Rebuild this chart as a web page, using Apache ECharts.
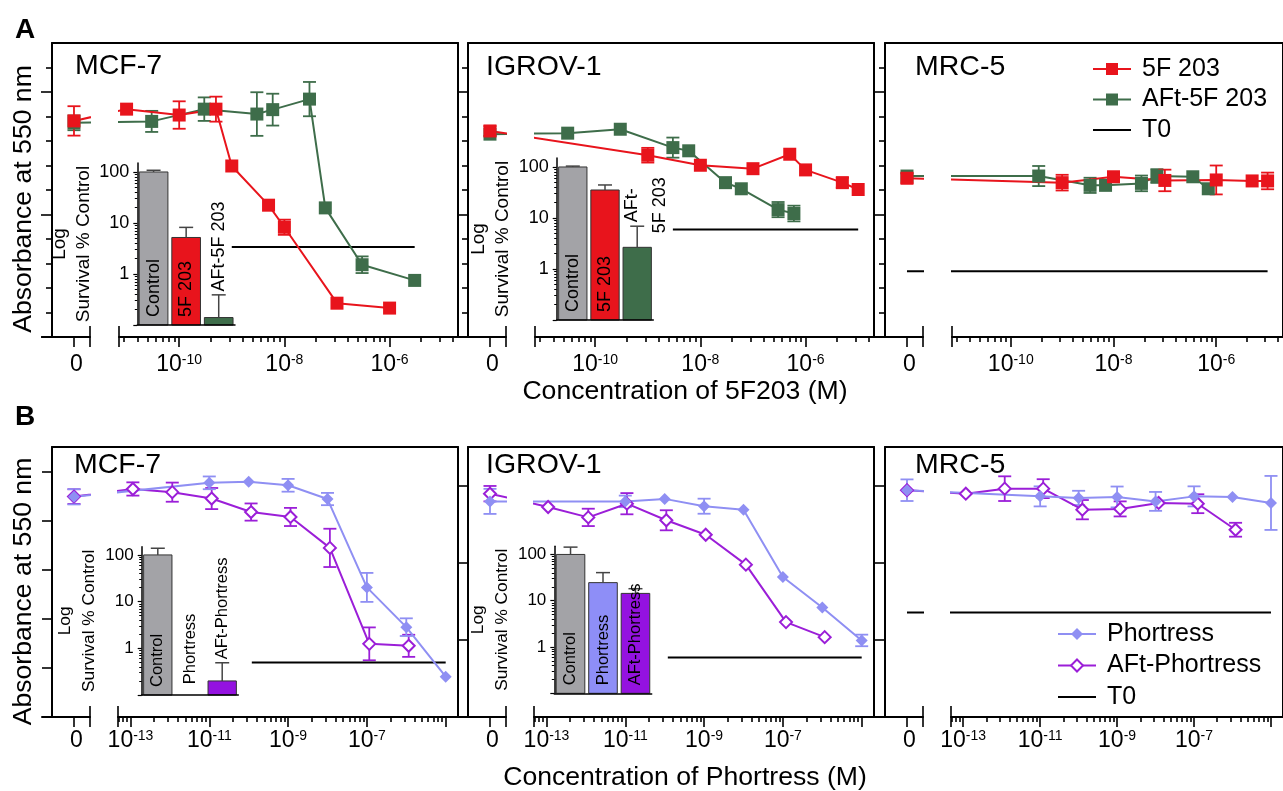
<!DOCTYPE html>
<html>
<head>
<meta charset="utf-8">
<title>5F 203 / Phortress dose response</title>
<script src="https://cdn.jsdelivr.net/npm/echarts@6/dist/echarts.min.js"></script>
<style>
  html, body { margin: 0; padding: 0; background: #fff; }
  #main { width: 1283px; height: 791px; }
</style>
</head>
<body>
<div id="main"></div>
<script>
const FONT = '"Liberation Sans", Arial, Helvetica, sans-serif';
const RED = '#e8141c', GREEN = '#3e6d4a', LAV = '#8f8ff3', PURPLE = '#9b1ed8', GREY = '#a3a3a7';

// ---------- A: 5F 203 / AFt-5F 203, concentration (M), absorbance at 550 nm ----------
const aMcfFreeConc = [0, 1e-11, 1e-10, 5e-10, 1e-9, 5e-9, 1e-8, 1e-7, 1e-6];
const aMcfFreeAbs  = [0.882, 0.930, 0.906, 0.930, 0.698, 0.538, 0.448, 0.138, 0.118];
const aMcfFreeSd   = [0.060, 0, 0.056, 0.051, 0, 0, 0.031, 0, 0];
const aMcfAftConc  = [0, 3e-11, 3e-10, 3e-9, 6e-9, 3e-8, 6e-8, 3e-7, 3e-6];
const aMcfAftAbs   = [0.874, 0.880, 0.930, 0.910, 0.928, 0.971, 0.527, 0.295, 0.231];
const aMcfAftSd    = [0.030, 0.043, 0.048, 0.089, 0.065, 0.070, 0, 0.034, 0];

const aIgrFreeConc = [0, 1e-9, 1e-8, 1e-7, 5e-7, 1e-6, 5e-6, 1e-5];
const aIgrFreeAbs  = [0.841, 0.742, 0.701, 0.687, 0.746, 0.682, 0.630, 0.602];
const aIgrFreeSd   = [0.020, 0.030, 0, 0, 0, 0, 0.020, 0];
const aIgrAftConc  = [0, 3e-11, 3e-10, 3e-9, 6e-9, 3e-8, 6e-8, 3e-7, 6e-7];
const aIgrAftAbs   = [0.828, 0.832, 0.848, 0.773, 0.760, 0.630, 0.605, 0.520, 0.504];
const aIgrAftSd    = [0, 0, 0, 0.041, 0, 0, 0, 0.031, 0.032];

const aMrcFreeConc = [0, 1e-9, 1e-8, 1e-7, 1e-6, 5e-6, 1e-5];
const aMrcFreeAbs  = [0.648, 0.630, 0.654, 0.639, 0.641, 0.637, 0.637];
const aMrcFreeSd   = [0.020, 0.032, 0, 0.044, 0.059, 0, 0.034];
const aMrcAftConc  = [0, 3.5e-10, 3.5e-9, 7e-9, 3.5e-8, 7e-8, 3.5e-7, 7e-7];
const aMrcAftAbs   = [0.657, 0.657, 0.619, 0.619, 0.627, 0.657, 0.654, 0.605];
const aMrcAftSd    = [0, 0.041, 0.031, 0, 0.032, 0.028, 0, 0];

// ---------- B: Phortress / AFt-Phortress ----------
const bMcfFreeConc = [0, 1e-11, 1e-10, 1e-9, 1e-8, 1e-7, 1e-6, 1e-5];
const bMcfFreeAbs  = [0.897, 0.954, 0.958, 0.944, 0.888, 0.528, 0.366, 0.164];
const bMcfFreeSd   = [0.031, 0.026, 0, 0.026, 0.025, 0.059, 0.036, 0];
const bMcfAftConc  = [0, 1.15e-13, 1.15e-12, 1.15e-11, 1.15e-10, 1.15e-9, 1.15e-8, 1.15e-7, 1.15e-6];
const bMcfAftAbs   = [0.898, 0.929, 0.916, 0.890, 0.835, 0.815, 0.689, 0.298, 0.290];
const bMcfAftSd    = [0.030, 0.027, 0.039, 0.043, 0.035, 0.037, 0.078, 0.067, 0.045];

const bIgrFreeConc = [0, 1e-11, 1e-10, 1e-9, 1e-8, 1e-7, 1e-6, 1e-5];
const bIgrFreeAbs  = [1.118, 1.118, 1.131, 1.093, 1.075, 0.726, 0.568, 0.397];
const bIgrFreeSd   = [0.065, 0.030, 0, 0.039, 0, 0, 0, 0.030];
const bIgrAftConc  = [0, 1.1e-13, 1.15e-12, 1.1e-11, 1.1e-10, 1.1e-9, 1.15e-8, 1.2e-7, 1.15e-6];
const bIgrAftAbs   = [1.158, 1.089, 1.035, 1.106, 1.020, 0.945, 0.790, 0.492, 0.414];
const bIgrAftSd    = [0.040, 0, 0.045, 0.055, 0.052, 0, 0, 0, 0];

const bMrcFreeConc = [0, 1e-11, 1e-10, 1e-9, 1e-8, 1e-7, 1e-6, 1e-5];
const bMrcFreeAbs  = [1.176, 1.144, 1.136, 1.141, 1.118, 1.144, 1.141, 1.110];
const bMrcFreeSd   = [0.056, 0.052, 0.037, 0.054, 0.049, 0.052, 0, 0.140];
const bMrcAftConc  = [0, 1.17e-13, 1.2e-12, 1.2e-11, 1.25e-10, 1.2e-9, 1.2e-8, 1.25e-7, 1.2e-6];
const bMrcAftAbs   = [1.176, 1.158, 1.184, 1.184, 1.075, 1.079, 1.110, 1.106, 0.971];
const bMrcAftSd    = [0, 0, 0.064, 0.049, 0.050, 0.039, 0, 0.049, 0.036];

// T0 absorbance and visible extent (M) per panel: A MCF-7, A IGROV-1, A MRC-5, B MCF-7, B IGROV-1, B MRC-5
const t0Abs   = [0.367, 0.439, 0.268, 0.222, 0.308, 0.542];
const t0From  = [1e-9, 3e-9, 0, 1.2e-10, 1.2e-10, 0];
const t0To    = [3e-6, 1e-5, 1e-5, 1e-5, 1e-5, 1e-5];

// ---------- insets: survival % of control (log) ----------
const insetCatsA = ['Control', '5F 203', 'AFt-5F 203'];
const insetCatsB = ['Control', 'Phortress', 'AFt-Phortress'];
const insMcfA = [100, 5.2, 0.14],  insMcfAErr = [108, 8.2, 0.39];
const insIgrA = [100, 35.4, 2.66], insIgrAErr = [104, 44.4, 6.9];
const insMcfB = [100, 0.1, 0.2],   insMcfBErr = [139, 0.1, 0.49];
const insIgrB = [100, 24.6, 14.4], insIgrBErr = [144, 40.5, 18.2];

// tick labels (exponents of 10) and inset tick labels
const tickExpA = [-10, -8, -6];
const tickExpB = [-13, -11, -9, -7];
const insetTickLabels = [1, 10, 100];

// ---------- layout ----------
const ROWS = {
  A: { top: 43, bottom: 337, pxPerDec: 52.6, zero: -12, seg0: [-12.608, -11.696], log: [-11.144, -4.70],
       first: -12, labels: tickExpA, labelMargin: 16 },
  B: { top: 447, bottom: 717, pxPerDec: 39.4, zero: -14.434, seg0: [-15.246, -14.028], log: [-13.317, -4.688],
       first: -15, labels: tickExpB, labelMargin: 12 }
};

const STYLE = {
  '5F 203':        { color: RED,    symbol: 'rect',         size: 13, bw: 0 },
  'AFt-5F 203':    { color: GREEN,  symbol: 'rect',         size: 13, bw: 0 },
  'Phortress':     { color: LAV,    symbol: 'diamond',      size: 12, bw: 0 },
  'AFt-Phortress': { color: PURPLE, symbol: 'emptyDiamond', size: 12, bw: 2 }
};

const panels = [
  { row: 'A', L: 52,  title: 'MCF-7',   tx: 75,  ty: 66,  yMax: 1.2, yTicks: [0, 0.5, 1.0], yMinor: 0.1, k: 0,
    sets: [['AFt-5F 203', aMcfAftConc, aMcfAftAbs, aMcfAftSd], ['5F 203', aMcfFreeConc, aMcfFreeAbs, aMcfFreeSd]] },
  { row: 'A', L: 468, title: 'IGROV-1', tx: 486, ty: 67,  yMax: 1.2, yTicks: [0, 0.5, 1.0], yMinor: 0.1, k: 1,
    sets: [['AFt-5F 203', aIgrAftConc, aIgrAftAbs, aIgrAftSd], ['5F 203', aIgrFreeConc, aIgrFreeAbs, aIgrFreeSd]] },
  { row: 'A', L: 885, title: 'MRC-5',   tx: 915, ty: 67,  yMax: 1.2, yTicks: [0, 0.5, 1.0], yMinor: 0.1, k: 2,
    sets: [['AFt-5F 203', aMrcAftConc, aMrcAftAbs, aMrcAftSd], ['5F 203', aMrcFreeConc, aMrcFreeAbs, aMrcFreeSd]] },
  { row: 'B', L: 52,  title: 'MCF-7',   tx: 74,  ty: 465, yMax: 1.1, yTicks: [0, 0.2, 0.4, 0.6, 0.8, 1.0], k: 3,
    sets: [['AFt-Phortress', bMcfAftConc, bMcfAftAbs, bMcfAftSd], ['Phortress', bMcfFreeConc, bMcfFreeAbs, bMcfFreeSd]] },
  { row: 'B', L: 468, title: 'IGROV-1', tx: 486, ty: 465, yMax: 1.4, yTicks: [0, 0.4, 0.8, 1.2], k: 4,
    sets: [['AFt-Phortress', bIgrAftConc, bIgrAftAbs, bIgrAftSd], ['Phortress', bIgrFreeConc, bIgrFreeAbs, bIgrFreeSd]] },
  { row: 'B', L: 885, title: 'MRC-5',   tx: 915, ty: 465, yMax: 1.4, yTicks: [0, 0.4, 0.8, 1.2], k: 5,
    sets: [['AFt-Phortress', bMrcAftConc, bMrcAftAbs, bMrcAftSd], ['Phortress', bMrcFreeConc, bMrcFreeAbs, bMrcFreeSd]] }
];

const insets = [
  { box: { left: 137.3, top: 163, width: 97.7, height: 162 }, cats: insetCatsA, values: insMcfA, err: insMcfAErr,
    text: ['Control', '5F 203', 'AFt-5F 203'], place: ['in', 'in', [71, 0]], colors: [GREY, RED, GREEN],
    fs: 18, lh: 20, tickFs: 18, nameFs: 19 },
  { box: { left: 556.7, top: 158, width: 96.6, height: 162 }, cats: insetCatsA, values: insIgrA, err: insIgrAErr,
    text: ['Control', '5F 203', 'AFt-\n5F 203'], place: ['in', 'in', [42, 9]], colors: [GREY, RED, GREEN],
    fs: 18, lh: 28, tickFs: 18, nameFs: 19 },
  { box: { left: 141.7, top: 546.7, width: 96.6, height: 148.3 }, cats: insetCatsB, values: insMcfB, err: insMcfBErr,
    text: insetCatsB, place: ['in', [46, 0], [72.5, 0]], colors: [GREY, '#8e8ef7', '#9412e0'],
    fs: 16.5, lh: 18, tickFs: 17, nameFs: 17.3 },
  { box: { left: 554.3, top: 546.3, width: 97.4, height: 147 }, cats: insetCatsB, values: insIgrB, err: insIgrBErr,
    text: insetCatsB, place: ['in', 'in', 'in'], colors: [GREY, '#8e8ef7', '#9412e0'],
    fs: 16.5, lh: 18, tickFs: 17, nameFs: 17.3 }
];

// ---------- build ----------
const grid = [], xAxis = [], yAxis = [], series = [], graphic = [];
const push = (arr, o) => { arr.push(o); return arr.length - 1; };
const AX = { color: '#000', width: 2 };
const TK = { color: '#000', width: 1.6 };
const NO = { show: false };
const XRICH = {
  b: { fontSize: 23, fontFamily: FONT, color: '#000', lineHeight: 24 },
  z: { fontSize: 23, fontFamily: FONT, color: '#000', lineHeight: 24, padding: [0, 0, 0, 5] },
  s: { fontSize: 14, fontFamily: FONT, color: '#000', lineHeight: 14, padding: [0, 0, 10, 0] }
};

function xOf(c, r) { return c === 0 ? r.zero : Math.log10(c); }

function errBar(color, half) {
  return function (params, api) {
    const x = api.value(0), y = api.value(1), e = api.value(2);
    const top = api.coord([x, y + e]);
    const bot = api.coord([x, y - e]);
    const st = { stroke: color, lineWidth: 1.8 };
    return { type: 'group', children: [
      { type: 'line', shape: { x1: top[0], y1: top[1], x2: bot[0], y2: bot[1] }, style: st },
      { type: 'line', shape: { x1: top[0] - half, y1: top[1], x2: top[0] + half, y2: top[1] }, style: st },
      { type: 'line', shape: { x1: bot[0] - half, y1: bot[1], x2: bot[0] + half, y2: bot[1] }, style: st }
    ] };
  };
}

function insetBar(ins) {
  return function (params, api) {
    const i = api.value(0), v = api.value(1), e = api.value(2);
    const cs = params.coordSys;
    const base = cs.y + cs.height;
    const top = api.coord([i, v]);
    const errP = api.coord([i, e]);
    const bw = api.size([1, 0])[0] * 0.88;
    const cx = top[0];
    const kids = [];
    if (base - top[1] > 0.5) {
      kids.push({ type: 'rect', shape: { x: cx - bw / 2, y: top[1], width: bw, height: base - top[1] },
        style: { fill: ins.colors[i], stroke: '#333', lineWidth: 1 } });
    }
    if (e > v) {
      const st = { stroke: '#444', lineWidth: 1.5 };
      kids.push({ type: 'line', shape: { x1: cx, y1: top[1], x2: cx, y2: errP[1] }, style: st });
      kids.push({ type: 'line', shape: { x1: cx - 7, y1: errP[1], x2: cx + 7, y2: errP[1] }, style: st });
    }
    const place = ins.place[i];
    const ts = { text: ins.text[i], fill: '#000', fontSize: ins.fs, fontFamily: FONT, lineHeight: ins.lh };
    if (place === 'in') {
      kids.push({ type: 'text', x: cx, y: base - 8, rotation: Math.PI / 2,
        style: Object.assign({ align: 'left', verticalAlign: 'middle', textAlign: 'left', textVerticalAlign: 'middle' }, ts) });
    } else {
      kids.push({ type: 'text', x: cx + place[1], y: top[1] - place[0], rotation: Math.PI / 2,
        style: Object.assign({ align: 'center', verticalAlign: 'middle', textAlign: 'center', textVerticalAlign: 'middle' }, ts) });
    }
    return { type: 'group', children: kids };
  };
}

panels.forEach(p => {
  const r = ROWS[p.row];
  const h = r.bottom - r.top;

  // frame: left axis with ticks, top line, right line
  const gb = push(grid, { left: p.L, top: r.top, width: 406, height: h });
  push(xAxis, { gridIndex: gb, type: 'value', min: 0, max: 1, position: 'top',
    axisLine: { show: true, onZero: false, lineStyle: AX }, axisTick: NO, axisLabel: NO, splitLine: NO });
  push(yAxis, { gridIndex: gb, type: 'value', min: 0, max: p.yMax, position: 'left',
    axisLine: { show: true, onZero: false, lineStyle: AX },
    axisTick: { show: true, length: p.yMinor ? 11 : 10, customValues: p.yTicks, lineStyle: TK },
    axisLabel: NO, splitLine: NO });
  if (p.yMinor) {
    const minors = [];
    for (let k = 1; k * p.yMinor < p.yMax - 1e-9; k++) {
      const v = Math.round(k * p.yMinor * 1000) / 1000;
      if (!p.yTicks.includes(v)) minors.push(v);
    }
    push(yAxis, { gridIndex: gb, type: 'value', min: 0, max: p.yMax, position: 'left',
      axisLine: { show: false, onZero: false },
      axisTick: { show: true, length: 6, customValues: minors, lineStyle: TK }, axisLabel: NO, splitLine: NO });
  }
  push(yAxis, { gridIndex: gb, type: 'value', min: 0, max: p.yMax, position: 'right',
    axisLine: { show: true, onZero: false, lineStyle: AX }, axisTick: NO, axisLabel: NO, splitLine: NO });

  // zero segment of the broken x axis
  const g0left = p.L - 10;
  const g0 = push(grid, { left: g0left, top: r.top, width: (r.seg0[1] - r.seg0[0]) * r.pxPerDec, height: h });
  const x0 = push(xAxis, { gridIndex: g0, type: 'value', min: r.seg0[0], max: r.seg0[1], position: 'bottom',
    axisLine: { show: true, onZero: false, lineStyle: AX },
    axisTick: { show: true, length: 10, customValues: [r.zero, r.seg0[1]], lineStyle: TK },
    axisLabel: { show: true, margin: r.labelMargin, customValues: [r.zero], formatter: () => '{z|0}', rich: XRICH },
    splitLine: NO });
  push(xAxis, { gridIndex: g0, type: 'value', min: r.seg0[0], max: r.seg0[1], position: 'bottom',
    axisLine: { show: false, onZero: false },
    axisTick: { show: true, inside: true, length: 11, customValues: [r.seg0[1]], lineStyle: TK },
    axisLabel: NO, splitLine: NO });
  const y0 = push(yAxis, { gridIndex: g0, type: 'value', min: 0, max: p.yMax, show: false });

  // log segment
  const glLeft = g0left + (r.log[0] - r.seg0[0]) * r.pxPerDec;
  const gl = push(grid, { left: glLeft, top: r.top, width: (r.log[1] - r.log[0]) * r.pxPerDec, height: h });
  const majors = [], minors = [];
  for (let n = r.first; n <= r.log[1]; n += 2) {
    if (n >= r.log[0]) majors.push(n);
    for (let k = 2; k <= 9; k++) {
      const m = n + 2 * Math.log10(k);
      if (m >= r.log[0] && m <= r.log[1]) minors.push(m);
    }
  }
  const xl = push(xAxis, { gridIndex: gl, type: 'value', min: r.log[0], max: r.log[1], position: 'bottom',
    axisLine: { show: true, onZero: false, lineStyle: AX },
    axisTick: { show: true, length: 10, customValues: [r.log[0]].concat(majors), lineStyle: TK },
    axisLabel: { show: true, margin: r.labelMargin, customValues: r.labels,
      formatter: v => '{b|10}{s|' + Math.round(v) + '}', rich: XRICH },
    splitLine: NO });
  push(xAxis, { gridIndex: gl, type: 'value', min: r.log[0], max: r.log[1], position: 'bottom',
    axisLine: { show: false, onZero: false },
    axisTick: { show: true, length: 5, customValues: minors, lineStyle: TK }, axisLabel: NO, splitLine: NO });
  push(xAxis, { gridIndex: gl, type: 'value', min: r.log[0], max: r.log[1], position: 'bottom',
    axisLine: { show: false, onZero: false },
    axisTick: { show: true, inside: true, length: 11, customValues: [r.log[0]], lineStyle: TK },
    axisLabel: NO, splitLine: NO });
  const yl = push(yAxis, { gridIndex: gl, type: 'value', min: 0, max: p.yMax, show: false });

  const t0Line = [[xOf(t0From[p.k], r), t0Abs[p.k]], [xOf(t0To[p.k], r), t0Abs[p.k]]];
  [[x0, y0, r.seg0], [xl, yl, r.log]].forEach(([xi, yi, rng]) => {
    series.push({ type: 'line', name: 'T0', xAxisIndex: xi, yAxisIndex: yi, symbol: 'none', silent: true, clip: true,
      data: t0Line, lineStyle: { color: '#000', width: 2 }, itemStyle: { color: '#000', opacity: 0 } });
    p.sets.forEach(([name, conc, abs, sd]) => {
      const st = STYLE[name];
      const pts = conc.map((c, i) => [xOf(c, r), abs[i], sd[i]]);
      series.push({ type: 'custom', xAxisIndex: xi, yAxisIndex: yi, silent: true,
        itemStyle: { color: st.color }, renderItem: errBar(st.color, 6.5),
        data: pts.filter(q => q[2] > 0 && q[0] >= rng[0] && q[0] <= rng[1]) });
      series.push({ type: 'line', name, xAxisIndex: xi, yAxisIndex: yi, silent: true, clip: true,
        data: pts.map(q => [q[0], q[1]]), symbol: st.symbol, symbolSize: st.size,
        lineStyle: { color: st.color, width: 2 },
        itemStyle: { color: st.color, borderColor: st.color, borderWidth: st.bw } });
    });
  });

  graphic.push({ type: 'text', x: p.tx, y: p.ty, z: 10, silent: true,
    style: { text: p.title, fill: '#000', fontSize: 28.5, fontFamily: FONT,
      align: 'left', verticalAlign: 'middle', textAlign: 'left', textVerticalAlign: 'middle' } });
});

insets.forEach(ins => {
  const gi = push(grid, ins.box);
  const ix = push(xAxis, { gridIndex: gi, type: 'category', data: ins.cats, z: 5,
    axisLine: { show: true, onZero: false, lineStyle: { color: '#000', width: 1.5 } },
    axisTick: NO, axisLabel: NO, splitLine: NO });
  const iy = push(yAxis, { gridIndex: gi, type: 'log', logBase: 10, min: 0.1, max: 150, position: 'left', z: 5,
    axisLine: { show: true, onZero: false, lineStyle: { color: '#000', width: 1.5 } },
    axisTick: { show: true, length: 4, customValues: [0.1, 1, 10, 100], lineStyle: { color: '#000', width: 1.2 } },
    axisLabel: { show: true, margin: 8, customValues: insetTickLabels, formatter: v => String(Math.round(v)),
      fontSize: ins.tickFs, fontFamily: FONT, color: '#000' },
    name: 'Log\nSurvival % Control', nameLocation: 'middle', nameGap: 34,
    nameTextStyle: { fontSize: ins.nameFs, lineHeight: 24, fontFamily: FONT, color: '#000' },
    splitLine: NO });
  const minorVals = [];
  [0.1, 1, 10].forEach(d => { for (let k = 2; k <= 9; k++) minorVals.push(Math.round(d * k * 100) / 100); });
  push(yAxis, { gridIndex: gi, type: 'log', logBase: 10, min: 0.1, max: 150, position: 'left', z: 5,
    axisLine: { show: false, onZero: false },
    axisTick: { show: true, length: 2.5, customValues: minorVals, lineStyle: { color: '#000', width: 1 } },
    axisLabel: NO, splitLine: NO });
  series.push({ type: 'custom', xAxisIndex: ix, yAxisIndex: iy, z: 5, silent: true, renderItem: insetBar(ins),
    data: ins.values.map((v, i) => [i, v, ins.err[i]]) });
});

// figure texts
const TXT = (text, x, y, size, rot, bold) => ({ type: 'text', x, y, rotation: rot || 0, z: 10, silent: true,
  style: { text, fill: '#000', fontSize: size, fontFamily: FONT, fontWeight: bold ? 'bold' : 'normal',
    align: 'center', verticalAlign: 'middle', textAlign: 'center', textVerticalAlign: 'middle' } });
graphic.push(TXT('A', 25, 30, 28, 0, true));
graphic.push(TXT('B', 25, 417, 28, 0, true));
graphic.push(TXT('Absorbance at 550 nm', 23.5, 199, 26.6, Math.PI / 2));
graphic.push(TXT('Absorbance at 550 nm', 23.5, 591.5, 26.6, Math.PI / 2));
graphic.push(TXT('Concentration of 5F203 (M)', 685, 391.5, 26.6));
graphic.push(TXT('Concentration of Phortress (M)', 685, 777.8, 26.6));

const LEGTXT = { fontSize: 25, fontFamily: FONT, color: '#000', lineHeight: 25, padding: [0, 0, 0, 6] };
const T0_ITEM = { name: 'T0', itemStyle: { opacity: 0 } };

const chart = echarts.init(document.getElementById('main'));
chart.setOption({
  animation: false,
  backgroundColor: '#fff',
  textStyle: { fontFamily: FONT },
  legend: [
    { data: ['5F 203', 'AFt-5F 203', T0_ITEM], orient: 'vertical', left: 1092, top: 56.5, padding: 0, itemGap: 5.5,
      itemWidth: 38, itemHeight: 15, selectedMode: false, textStyle: LEGTXT },
    { data: ['Phortress', 'AFt-Phortress', T0_ITEM], orient: 'vertical', left: 1057, top: 621.5, padding: 0, itemGap: 6.5,
      itemWidth: 38, itemHeight: 15, selectedMode: false, textStyle: LEGTXT }
  ],
  grid, xAxis, yAxis, series, graphic
});
</script>
</body>
</html>
